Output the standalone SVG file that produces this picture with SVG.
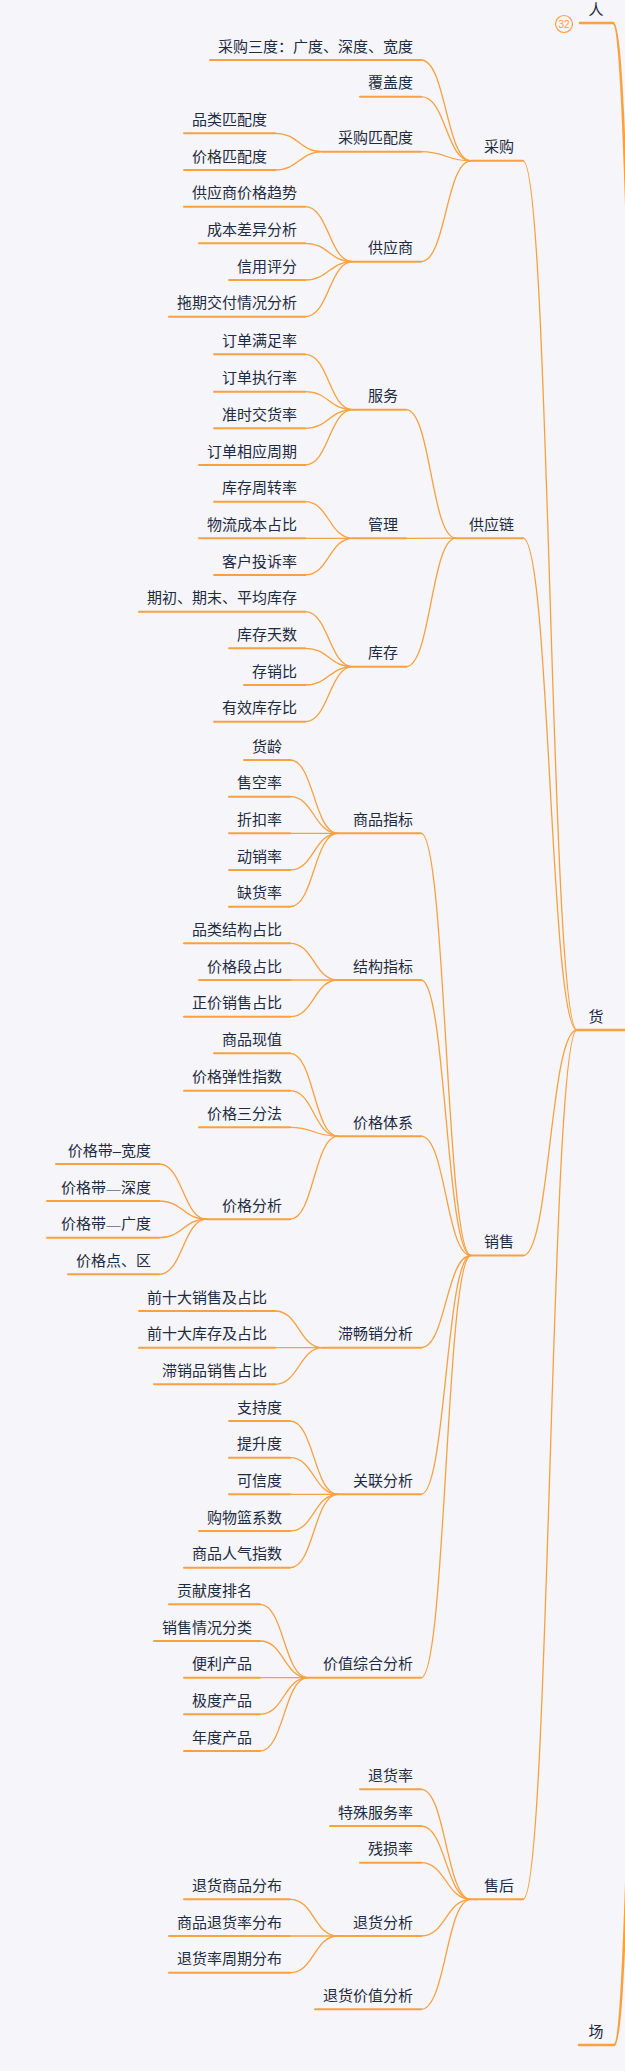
<svg xmlns="http://www.w3.org/2000/svg" width="625" height="2071" viewBox="0 0 625 2071">
<style>
.t{font-family:"Noto Sans CJK SC","Noto Sans",sans-serif;font-size:15px;fill:#1e2b40;text-anchor:end}
.u{stroke:#f9a03f;stroke-width:2;fill:none;stroke-linecap:round}
.r{stroke:#f9a03f;stroke-width:2.6;fill:none;stroke-linecap:round}
.c{stroke:#f9a03f;stroke-width:1.3;fill:none}
.cr{stroke:#f9a03f;stroke-width:2.6;fill:none}
</style>
<rect width="625" height="2071" fill="#f5f5fa"/>
<g id="connectors">
<path class="cr" d="M613 23C634 23 634 1030 655 1030"/>
<path class="cr" d="M614 2045C634.5 2045 634.5 1030 655 1030"/>
<path class="c" d="M523 160.8C550 160.8 550 1030 577 1030"/>
<path class="c" d="M523 538.2C550 538.2 550 1030 577 1030"/>
<path class="c" d="M523 1255.5C550 1255.5 550 1030 577 1030"/>
<path class="c" d="M523 1899.3C550 1899.3 550 1030 577 1030"/>
<path class="c" d="M421 60C446 60 446 160.8 471 160.8"/>
<path class="c" d="M421 96.7C446 96.7 446 160.8 471 160.8"/>
<path class="c" d="M421 151.7C446 151.7 446 160.8 471 160.8"/>
<path class="c" d="M421 261.7C446 261.7 446 160.8 471 160.8"/>
<path class="c" d="M275 133.3C299 133.3 299 151.7 323 151.7"/>
<path class="c" d="M275 170C299 170 299 151.7 323 151.7"/>
<path class="c" d="M305 206.7C329 206.7 329 261.7 353 261.7"/>
<path class="c" d="M305 243.3C329 243.3 329 261.7 353 261.7"/>
<path class="c" d="M305 280C329 280 329 261.7 353 261.7"/>
<path class="c" d="M305 316.7C329 316.7 329 261.7 353 261.7"/>
<path class="c" d="M406 409.7C431 409.7 431 538.2 456 538.2"/>
<path class="c" d="M406 538.3L456 538.2"/>
<path class="c" d="M406 666.7C431 666.7 431 538.2 456 538.2"/>
<path class="c" d="M305 354.3C329 354.3 329 409.7 353 409.7"/>
<path class="c" d="M305 391.7C329 391.7 329 409.7 353 409.7"/>
<path class="c" d="M305 428.3C329 428.3 329 409.7 353 409.7"/>
<path class="c" d="M305 465C329 465 329 409.7 353 409.7"/>
<path class="c" d="M305 501.7C329 501.7 329 538.3 353 538.3"/>
<path class="c" d="M305 538.3L353 538.3"/>
<path class="c" d="M305 575C329 575 329 538.3 353 538.3"/>
<path class="c" d="M305 611.7C329 611.7 329 666.7 353 666.7"/>
<path class="c" d="M305 648.3C329 648.3 329 666.7 353 666.7"/>
<path class="c" d="M305 685C329 685 329 666.7 353 666.7"/>
<path class="c" d="M305 721.7C329 721.7 329 666.7 353 666.7"/>
<path class="c" d="M421 833.3C446 833.3 446 1255.5 471 1255.5"/>
<path class="c" d="M421 980C446 980 446 1255.5 471 1255.5"/>
<path class="c" d="M421 1136.2C446 1136.2 446 1255.5 471 1255.5"/>
<path class="c" d="M421 1347.7C446 1347.7 446 1255.5 471 1255.5"/>
<path class="c" d="M421 1494.3C446 1494.3 446 1255.5 471 1255.5"/>
<path class="c" d="M421 1677.7C446 1677.7 446 1255.5 471 1255.5"/>
<path class="c" d="M290 760C314 760 314 833.3 338 833.3"/>
<path class="c" d="M290 796.7C314 796.7 314 833.3 338 833.3"/>
<path class="c" d="M290 833.3L338 833.3"/>
<path class="c" d="M290 870C314 870 314 833.3 338 833.3"/>
<path class="c" d="M290 906.7C314 906.7 314 833.3 338 833.3"/>
<path class="c" d="M290 943.3C314 943.3 314 980 338 980"/>
<path class="c" d="M290 980L338 980"/>
<path class="c" d="M290 1016.7C314 1016.7 314 980 338 980"/>
<path class="c" d="M290 1053.3C314 1053.3 314 1136.2 338 1136.2"/>
<path class="c" d="M290 1090.7C314 1090.7 314 1136.2 338 1136.2"/>
<path class="c" d="M290 1127.3C314 1127.3 314 1136.2 338 1136.2"/>
<path class="c" d="M290 1219.2C314 1219.2 314 1136.2 338 1136.2"/>
<path class="c" d="M159 1164C183 1164 183 1219.2 207 1219.2"/>
<path class="c" d="M159 1201C183 1201 183 1219.2 207 1219.2"/>
<path class="c" d="M159 1237.7C183 1237.7 183 1219.2 207 1219.2"/>
<path class="c" d="M159 1274.3C183 1274.3 183 1219.2 207 1219.2"/>
<path class="c" d="M275 1311C299 1311 299 1347.7 323 1347.7"/>
<path class="c" d="M275 1347.7L323 1347.7"/>
<path class="c" d="M275 1384.3C299 1384.3 299 1347.7 323 1347.7"/>
<path class="c" d="M290 1421C314 1421 314 1494.3 338 1494.3"/>
<path class="c" d="M290 1457.7C314 1457.7 314 1494.3 338 1494.3"/>
<path class="c" d="M290 1494.3L338 1494.3"/>
<path class="c" d="M290 1531C314 1531 314 1494.3 338 1494.3"/>
<path class="c" d="M290 1567.7C314 1567.7 314 1494.3 338 1494.3"/>
<path class="c" d="M260 1604.3C284 1604.3 284 1677.7 308 1677.7"/>
<path class="c" d="M260 1641C284 1641 284 1677.7 308 1677.7"/>
<path class="c" d="M260 1677.7L308 1677.7"/>
<path class="c" d="M260 1714.3C284 1714.3 284 1677.7 308 1677.7"/>
<path class="c" d="M260 1751C284 1751 284 1677.7 308 1677.7"/>
<path class="c" d="M421 1789.3C446 1789.3 446 1899.3 471 1899.3"/>
<path class="c" d="M421 1826C446 1826 446 1899.3 471 1899.3"/>
<path class="c" d="M421 1862.7C446 1862.7 446 1899.3 471 1899.3"/>
<path class="c" d="M421 1936C446 1936 446 1899.3 471 1899.3"/>
<path class="c" d="M421 2009.3C446 2009.3 446 1899.3 471 1899.3"/>
<path class="c" d="M290 1899.3C314 1899.3 314 1936 338 1936"/>
<path class="c" d="M290 1936L338 1936"/>
<path class="c" d="M290 1972.7C314 1972.7 314 1936 338 1936"/>
</g>
<g id="n-ren"><path class="r" d="M580 23H613"/><text class="t" x="603.5" y="14.5">人</text><circle cx="564" cy="24" r="8.5" fill="#f5f5fa" stroke="#f9a03f" stroke-width="1.2"/><text x="564" y="27.6" font-family="'Liberation Sans',sans-serif" font-size="10" fill="#f9a03f" text-anchor="middle">32</text></g>
<g id="n-huo"><path class="r" d="M577 1030H627"/><text class="t" x="603.5" y="1021.5">货</text></g>
<g id="n-chang"><path class="r" d="M579 2045H614"/><text class="t" x="603.5" y="2036.5">场</text></g>
<g id="n-caigou"><path class="u" d="M471 160.8H523"/><text class="t" x="514" y="152.3">采购</text></g>
<g id="n-gongyinglian"><path class="u" d="M456 538.2H523"/><text class="t" x="514" y="529.7">供应链</text></g>
<g id="n-xiaoshou"><path class="u" d="M471 1255.5H523"/><text class="t" x="514" y="1247">销售</text></g>
<g id="n-shouhou"><path class="u" d="M471 1899.3H523"/><text class="t" x="514" y="1890.8">售后</text></g>
<g id="n-sandu"><path class="u" d="M210 60H421"/><text class="t" x="413" y="51.5">采购三度：广度、深度、宽度</text></g>
<g id="n-fugaidu"><path class="u" d="M360 96.7H421"/><text class="t" x="413" y="88.2">覆盖度</text></g>
<g id="n-pipeidu"><path class="u" d="M323 151.7H421"/><text class="t" x="413" y="143.2">采购匹配度</text></g>
<g id="n-pinleipipei"><path class="u" d="M184 133.3H275"/><text class="t" x="267" y="124.8">品类匹配度</text></g>
<g id="n-jiagepipei"><path class="u" d="M184 170H275"/><text class="t" x="267" y="161.5">价格匹配度</text></g>
<g id="n-gongyingshang"><path class="u" d="M353 261.7H421"/><text class="t" x="413" y="253.2">供应商</text></g>
<g id="n-gys1"><path class="u" d="M184 206.7H305"/><text class="t" x="297" y="198.2">供应商价格趋势</text></g>
<g id="n-gys2"><path class="u" d="M199 243.3H305"/><text class="t" x="297" y="234.8">成本差异分析</text></g>
<g id="n-gys3"><path class="u" d="M229 280H305"/><text class="t" x="297" y="271.5">信用评分</text></g>
<g id="n-gys4"><path class="u" d="M169 316.7H305"/><text class="t" x="297" y="308.2">拖期交付情况分析</text></g>
<g id="n-fuwu"><path class="u" d="M353 409.7H406"/><text class="t" x="398" y="401.2">服务</text></g>
<g id="n-fw1"><path class="u" d="M214 354.3H305"/><text class="t" x="297" y="345.8">订单满足率</text></g>
<g id="n-fw2"><path class="u" d="M214 391.7H305"/><text class="t" x="297" y="383.2">订单执行率</text></g>
<g id="n-fw3"><path class="u" d="M214 428.3H305"/><text class="t" x="297" y="419.8">准时交货率</text></g>
<g id="n-fw4"><path class="u" d="M199 465H305"/><text class="t" x="297" y="456.5">订单相应周期</text></g>
<g id="n-guanli"><path class="u" d="M353 538.3H406"/><text class="t" x="398" y="529.8">管理</text></g>
<g id="n-gl1"><path class="u" d="M214 501.7H305"/><text class="t" x="297" y="493.2">库存周转率</text></g>
<g id="n-gl2"><path class="u" d="M199 538.3H305"/><text class="t" x="297" y="529.8">物流成本占比</text></g>
<g id="n-gl3"><path class="u" d="M214 575H305"/><text class="t" x="297" y="566.5">客户投诉率</text></g>
<g id="n-kucun"><path class="u" d="M353 666.7H406"/><text class="t" x="398" y="658.2">库存</text></g>
<g id="n-kc1"><path class="u" d="M139 611.7H305"/><text class="t" x="297" y="603.2">期初、期末、平均库存</text></g>
<g id="n-kc2"><path class="u" d="M229 648.3H305"/><text class="t" x="297" y="639.8">库存天数</text></g>
<g id="n-kc3"><path class="u" d="M244 685H305"/><text class="t" x="297" y="676.5">存销比</text></g>
<g id="n-kc4"><path class="u" d="M214 721.7H305"/><text class="t" x="297" y="713.2">有效库存比</text></g>
<g id="n-spzb"><path class="u" d="M338 833.3H421"/><text class="t" x="413" y="824.8">商品指标</text></g>
<g id="n-sp1"><path class="u" d="M244 760H290"/><text class="t" x="282" y="751.5">货龄</text></g>
<g id="n-sp2"><path class="u" d="M229 796.7H290"/><text class="t" x="282" y="788.2">售空率</text></g>
<g id="n-sp3"><path class="u" d="M229 833.3H290"/><text class="t" x="282" y="824.8">折扣率</text></g>
<g id="n-sp4"><path class="u" d="M229 870H290"/><text class="t" x="282" y="861.5">动销率</text></g>
<g id="n-sp5"><path class="u" d="M229 906.7H290"/><text class="t" x="282" y="898.2">缺货率</text></g>
<g id="n-jgzb"><path class="u" d="M338 980H421"/><text class="t" x="413" y="971.5">结构指标</text></g>
<g id="n-jg1"><path class="u" d="M184 943.3H290"/><text class="t" x="282" y="934.8">品类结构占比</text></g>
<g id="n-jg2"><path class="u" d="M199 980H290"/><text class="t" x="282" y="971.5">价格段占比</text></g>
<g id="n-jg3"><path class="u" d="M184 1016.7H290"/><text class="t" x="282" y="1008.2">正价销售占比</text></g>
<g id="n-jgtx"><path class="u" d="M338 1136.2H421"/><text class="t" x="413" y="1127.7">价格体系</text></g>
<g id="n-tx1"><path class="u" d="M214 1053.3H290"/><text class="t" x="282" y="1044.8">商品现值</text></g>
<g id="n-tx2"><path class="u" d="M184 1090.7H290"/><text class="t" x="282" y="1082.2">价格弹性指数</text></g>
<g id="n-tx3"><path class="u" d="M199 1127.3H290"/><text class="t" x="282" y="1118.8">价格三分法</text></g>
<g id="n-jgfx"><path class="u" d="M207 1219.2H290"/><text class="t" x="282" y="1210.7">价格分析</text></g>
<g id="n-fx1"><path class="u" d="M56 1164H159"/><text class="t" x="151" y="1155.5">价格带<tspan font-family="'Liberation Sans',sans-serif">–</tspan>宽度</text></g>
<g id="n-fx2"><path class="u" d="M47 1201H159"/><text class="t" x="151" y="1192.5">价格带<tspan font-size="9">——</tspan>深度</text></g>
<g id="n-fx3"><path class="u" d="M47 1237.7H159"/><text class="t" x="151" y="1229.2">价格带<tspan font-size="9">——</tspan>广度</text></g>
<g id="n-fx4"><path class="u" d="M68 1274.3H159"/><text class="t" x="151" y="1265.8">价格点、区</text></g>
<g id="n-zcx"><path class="u" d="M323 1347.7H421"/><text class="t" x="413" y="1339.2">滞畅销分析</text></g>
<g id="n-zc1"><path class="u" d="M139 1311H275"/><text class="t" x="267" y="1302.5">前十大销售及占比</text></g>
<g id="n-zc2"><path class="u" d="M139 1347.7H275"/><text class="t" x="267" y="1339.2">前十大库存及占比</text></g>
<g id="n-zc3"><path class="u" d="M154 1384.3H275"/><text class="t" x="267" y="1375.8">滞销品销售占比</text></g>
<g id="n-glfx"><path class="u" d="M338 1494.3H421"/><text class="t" x="413" y="1485.8">关联分析</text></g>
<g id="n-gf1"><path class="u" d="M229 1421H290"/><text class="t" x="282" y="1412.5">支持度</text></g>
<g id="n-gf2"><path class="u" d="M229 1457.7H290"/><text class="t" x="282" y="1449.2">提升度</text></g>
<g id="n-gf3"><path class="u" d="M229 1494.3H290"/><text class="t" x="282" y="1485.8">可信度</text></g>
<g id="n-gf4"><path class="u" d="M199 1531H290"/><text class="t" x="282" y="1522.5">购物篮系数</text></g>
<g id="n-gf5"><path class="u" d="M184 1567.7H290"/><text class="t" x="282" y="1559.2">商品人气指数</text></g>
<g id="n-jzzh"><path class="u" d="M308 1677.7H421"/><text class="t" x="413" y="1669.2">价值综合分析</text></g>
<g id="n-jz1"><path class="u" d="M169 1604.3H260"/><text class="t" x="252" y="1595.8">贡献度排名</text></g>
<g id="n-jz2"><path class="u" d="M154 1641H260"/><text class="t" x="252" y="1632.5">销售情况分类</text></g>
<g id="n-jz3"><path class="u" d="M184 1677.7H260"/><text class="t" x="252" y="1669.2">便利产品</text></g>
<g id="n-jz4"><path class="u" d="M184 1714.3H260"/><text class="t" x="252" y="1705.8">极度产品</text></g>
<g id="n-jz5"><path class="u" d="M184 1751H260"/><text class="t" x="252" y="1742.5">年度产品</text></g>
<g id="n-sh1"><path class="u" d="M360 1789.3H421"/><text class="t" x="413" y="1780.8">退货率</text></g>
<g id="n-sh2"><path class="u" d="M330 1826H421"/><text class="t" x="413" y="1817.5">特殊服务率</text></g>
<g id="n-sh3"><path class="u" d="M360 1862.7H421"/><text class="t" x="413" y="1854.2">残损率</text></g>
<g id="n-thfx"><path class="u" d="M338 1936H421"/><text class="t" x="413" y="1927.5">退货分析</text></g>
<g id="n-th1"><path class="u" d="M184 1899.3H290"/><text class="t" x="282" y="1890.8">退货商品分布</text></g>
<g id="n-th2"><path class="u" d="M169 1936H290"/><text class="t" x="282" y="1927.5">商品退货率分布</text></g>
<g id="n-th3"><path class="u" d="M169 1972.7H290"/><text class="t" x="282" y="1964.2">退货率周期分布</text></g>
<g id="n-thjz"><path class="u" d="M315 2009.3H421"/><text class="t" x="413" y="2000.8">退货价值分析</text></g>
</svg>
